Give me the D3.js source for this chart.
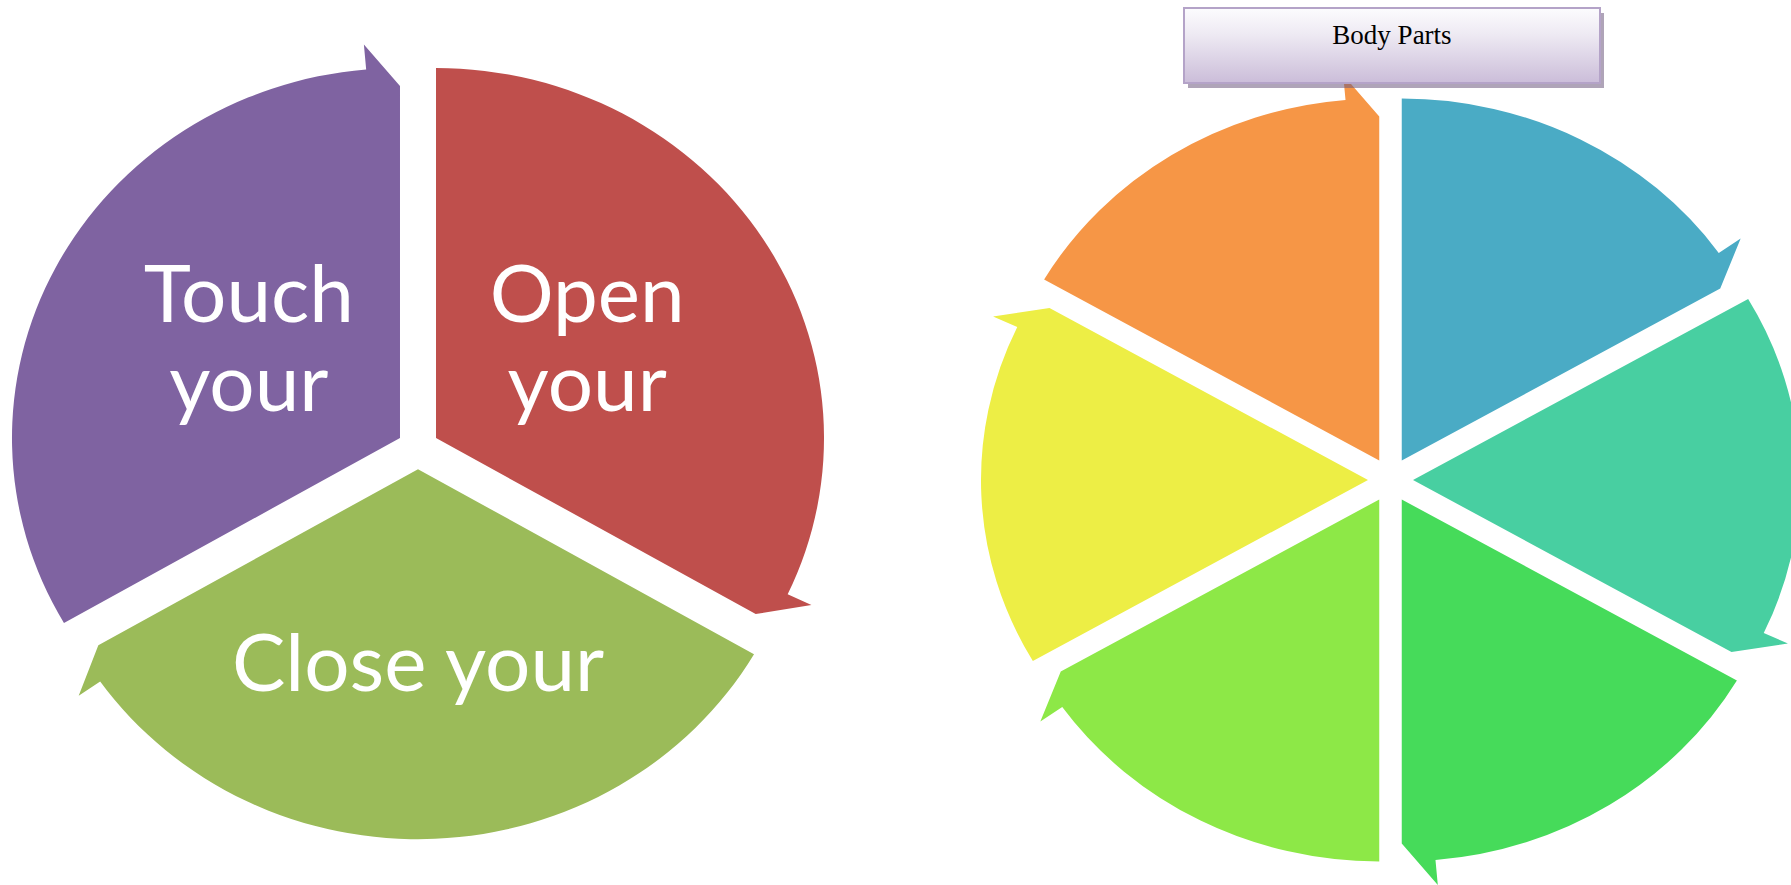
<!DOCTYPE html>
<html><head><meta charset="utf-8">
<script src="https://cdn.jsdelivr.net/npm/d3@7"></script>
<style>html,body{margin:0;padding:0;background:#fff;overflow:hidden}</style>
</head><body>
<svg id="chart" width="1791" height="885"></svg>
<script>
// ---- data ----
const leftSegments = ["Open your", "Close your", "Touch your"];
const leftLines = [["Open", "your"], ["Close your"], ["Touch", "your"]];
const leftValues = [1, 1, 1];
const leftColors = ["#BF4F4C", "#9BBB59", "#7F63A1"];

const rightSegments = ["Part 1", "Part 2", "Part 3", "Part 4", "Part 5", "Part 6"];
const rightValues = [1, 1, 1, 1, 1, 1];
const rightColors = ["#4AABC5", "#48CFA1", "#46DB5A", "#8DE847", "#EDEE45", "#F69646"];
const rightTitle = "Body Parts";

// ---- drawing ----
const svg = d3.select("#chart");
svg.append("rect").attr("width", 1791).attr("height", 885).attr("fill", "#fff");
const deg = Math.PI / 180;
const pt = (a, r) => [r * Math.sin(a), -r * Math.cos(a)];

function drawCycle(values, colors, cfg) {
  const g = svg.append("g");
  const arcs = d3.pie().sort(null).value(d => d)(values);
  const R = cfg.ry, sx = cfg.rx / cfg.ry;
  const info = [];
  arcs.forEach((p, i) => {
    const a0 = p.startAngle, a1 = p.endAngle, bis = (a0 + a1) / 2;
    const aN = a1 - cfg.delta * deg;
    const path = d3.path();
    path.moveTo(0, 0);
    const s = pt(a0, R);
    path.lineTo(s[0], s[1]);
    path.arc(0, 0, R, a0 - Math.PI / 2, aN - Math.PI / 2, false);
    const tip = pt(aN, R + cfg.tip);
    path.lineTo(tip[0], tip[1]);
    const inner = pt(a1, R - cfg.inner);
    path.lineTo(inner[0], inner[1]);
    path.closePath();
    const ox = cfg.cx + cfg.d * Math.sin(bis), oy = cfg.cy - cfg.d * Math.cos(bis);
    g.append("path")
      .attr("d", path.toString())
      .attr("transform", `translate(${ox},${oy}) scale(${sx},1)`)
      .attr("fill", colors[i]);
    info.push({ox, oy, bis, R, sx});
  });
  return info;
}

// Left cycle
const leftInfo = drawCycle(leftValues, leftColors,
  {cx: 418, cy: 448.4, d: 20.8, rx: 388, ry: 370, tip: 25, inner: 18, delta: 5});
const labelG = svg.append("g")
  .attr("font-family", "Lato, 'Open Sans', sans-serif")
  .attr("font-size", 80)
  .attr("fill", "#fff")
  .attr("text-anchor", "middle");
const lineH = 89;
leftLines.forEach((lines, i) => {
  const w = leftInfo[i];
  const rf = lines.length > 1 ? 0.45 : 0.569;
  const r = rf * w.R;
  const x = w.ox + w.sx * r * Math.sin(w.bis);
  const y = w.oy - r * Math.cos(w.bis);
  lines.forEach((t, j) => {
    labelG.append("text")
      .attr("x", x)
      .attr("y", y + (j - (lines.length - 1) / 2) * lineH + 11.5)
      .text(t);
  });
});

// Right cycle
const rcx = 1390.5;
drawCycle(rightValues, rightColors,
  {cx: rcx, cy: 480, d: 22.5, rx: 387, ry: 362, tip: 25, inner: 18, delta: 5});

// Title box
const defs = svg.append("defs");
const grad = defs.append("linearGradient").attr("id", "tg").attr("x1", 0).attr("y1", 0).attr("x2", 0).attr("y2", 1);
grad.append("stop").attr("offset", "0%").attr("stop-color", "#FCFCFE");
grad.append("stop").attr("offset", "35%").attr("stop-color", "#EEEAF3");
grad.append("stop").attr("offset", "100%").attr("stop-color", "#CBBDD9");
const bw = 416, bh = 75, bx = rcx - bw / 2 + 1.5, by = 8;
svg.append("rect").attr("x", bx + 4).attr("y", by + 5).attr("width", bw).attr("height", bh)
  .attr("fill", "rgba(110,90,125,0.55)");
svg.append("rect").attr("x", bx).attr("y", by).attr("width", bw).attr("height", bh)
  .attr("fill", "url(#tg)").attr("stroke", "#B4A3C8").attr("stroke-width", 2);
svg.append("text").attr("x", bx + bw / 2).attr("y", 44)
  .attr("text-anchor", "middle")
  .attr("font-family", "'Liberation Serif', 'Times New Roman', serif")
  .attr("font-size", 27).attr("fill", "#000")
  .text(rightTitle);
</script>
</body></html>
